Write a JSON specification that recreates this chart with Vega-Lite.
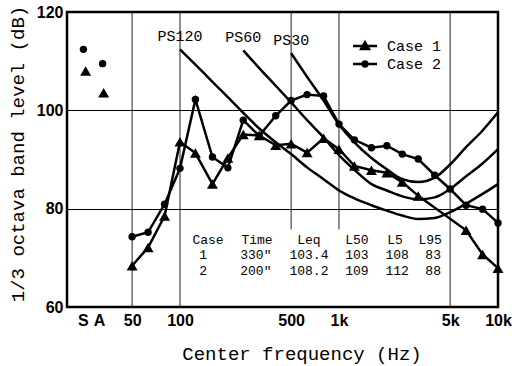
{
  "$schema": "https://vega.github.io/schema/vega-lite/v6.json",
  "width": 431,
  "height": 295,
  "autosize": "none",
  "padding": {"left": 67, "top": 12, "right": 14, "bottom": 59},
  "background": "white",
  "config": {
    "view": {"stroke": "black", "strokeWidth": 2.5},
    "font": "Liberation Sans"
  },
  "datasets": {
    "cases": [
      {"series": "Case 1", "freq": 50, "level": 68.4},
      {"series": "Case 1", "freq": 63, "level": 72.1},
      {"series": "Case 1", "freq": 80, "level": 78.5},
      {"series": "Case 1", "freq": 100, "level": 93.6},
      {"series": "Case 1", "freq": 125, "level": 91.3},
      {"series": "Case 1", "freq": 160, "level": 85.0},
      {"series": "Case 1", "freq": 200, "level": 90.3},
      {"series": "Case 1", "freq": 250, "level": 95.1},
      {"series": "Case 1", "freq": 315, "level": 94.9},
      {"series": "Case 1", "freq": 400, "level": 92.9},
      {"series": "Case 1", "freq": 500, "level": 93.2},
      {"series": "Case 1", "freq": 630, "level": 91.4},
      {"series": "Case 1", "freq": 800, "level": 94.3},
      {"series": "Case 1", "freq": 1000, "level": 92.1},
      {"series": "Case 1", "freq": 1250, "level": 88.7},
      {"series": "Case 1", "freq": 1600, "level": 87.8},
      {"series": "Case 1", "freq": 2000, "level": 87.3},
      {"series": "Case 1", "freq": 2500, "level": 85.4},
      {"series": "Case 1", "freq": 3150, "level": 82.6},
      {"series": "Case 1", "freq": 6300, "level": 75.6},
      {"series": "Case 1", "freq": 8000, "level": 70.7},
      {"series": "Case 1", "freq": 10000, "level": 67.9},
      {"series": "Case 2", "freq": 50, "level": 74.3},
      {"series": "Case 2", "freq": 63, "level": 75.2},
      {"series": "Case 2", "freq": 80, "level": 80.9},
      {"series": "Case 2", "freq": 100, "level": 88.2},
      {"series": "Case 2", "freq": 125, "level": 102.2},
      {"series": "Case 2", "freq": 160, "level": 90.5},
      {"series": "Case 2", "freq": 200, "level": 88.3},
      {"series": "Case 2", "freq": 250, "level": 98.0},
      {"series": "Case 2", "freq": 315, "level": 94.8},
      {"series": "Case 2", "freq": 400, "level": 98.9},
      {"series": "Case 2", "freq": 500, "level": 102.0},
      {"series": "Case 2", "freq": 630, "level": 103.2},
      {"series": "Case 2", "freq": 800, "level": 102.9},
      {"series": "Case 2", "freq": 1000, "level": 97.2},
      {"series": "Case 2", "freq": 1250, "level": 94.0},
      {"series": "Case 2", "freq": 1600, "level": 92.4},
      {"series": "Case 2", "freq": 2000, "level": 92.8},
      {"series": "Case 2", "freq": 2500, "level": 91.1},
      {"series": "Case 2", "freq": 3150, "level": 90.1},
      {"series": "Case 2", "freq": 4000, "level": 86.8},
      {"series": "Case 2", "freq": 5000, "level": 84.0},
      {"series": "Case 2", "freq": 6300, "level": 80.7},
      {"series": "Case 2", "freq": 8000, "level": 79.9},
      {"series": "Case 2", "freq": 10000, "level": 77.1}
    ],
    "overall": [
      {"series": "Case 2", "band": "S", "freq": 24.7, "level": 112.4},
      {"series": "Case 1", "band": "S", "freq": 25.5, "level": 108.0},
      {"series": "Case 2", "band": "A", "freq": 32.6, "level": 109.5},
      {"series": "Case 1", "band": "A", "freq": 33.1, "level": 103.6}
    ],
    "ps": [
      {"curve": "PS120", "freq": 100, "level": 112.4},
      {"curve": "PS120", "freq": 125, "level": 109.3},
      {"curve": "PS120", "freq": 160, "level": 105.8},
      {"curve": "PS120", "freq": 200, "level": 102.7},
      {"curve": "PS120", "freq": 250, "level": 99.5},
      {"curve": "PS120", "freq": 315, "level": 96.3},
      {"curve": "PS120", "freq": 400, "level": 93.5},
      {"curve": "PS120", "freq": 500, "level": 91.1},
      {"curve": "PS120", "freq": 630, "level": 88.4},
      {"curve": "PS120", "freq": 800, "level": 86.0},
      {"curve": "PS120", "freq": 1000, "level": 83.7},
      {"curve": "PS120", "freq": 1250, "level": 82.1},
      {"curve": "PS120", "freq": 1600, "level": 80.7},
      {"curve": "PS120", "freq": 2000, "level": 79.6},
      {"curve": "PS120", "freq": 2500, "level": 78.6},
      {"curve": "PS120", "freq": 3150, "level": 77.9},
      {"curve": "PS120", "freq": 4000, "level": 78.1},
      {"curve": "PS120", "freq": 5000, "level": 79.3},
      {"curve": "PS120", "freq": 6300, "level": 81.0},
      {"curve": "PS120", "freq": 8000, "level": 83.0},
      {"curve": "PS120", "freq": 10000, "level": 85.0},
      {"curve": "PS60", "freq": 250, "level": 112.2},
      {"curve": "PS60", "freq": 315, "level": 108.6},
      {"curve": "PS60", "freq": 400, "level": 105.0},
      {"curve": "PS60", "freq": 500, "level": 101.6},
      {"curve": "PS60", "freq": 630, "level": 98.0},
      {"curve": "PS60", "freq": 800, "level": 94.5},
      {"curve": "PS60", "freq": 1000, "level": 90.9},
      {"curve": "PS60", "freq": 1250, "level": 87.9},
      {"curve": "PS60", "freq": 1600, "level": 85.0},
      {"curve": "PS60", "freq": 2000, "level": 83.7},
      {"curve": "PS60", "freq": 2500, "level": 82.5},
      {"curve": "PS60", "freq": 3150, "level": 81.9},
      {"curve": "PS60", "freq": 4000, "level": 82.3},
      {"curve": "PS60", "freq": 5000, "level": 84.0},
      {"curve": "PS60", "freq": 6300, "level": 86.6},
      {"curve": "PS60", "freq": 8000, "level": 89.2},
      {"curve": "PS60", "freq": 10000, "level": 92.1},
      {"curve": "PS30", "freq": 500, "level": 111.6},
      {"curve": "PS30", "freq": 630, "level": 106.8},
      {"curve": "PS30", "freq": 800, "level": 102.0},
      {"curve": "PS30", "freq": 1000, "level": 97.1},
      {"curve": "PS30", "freq": 1250, "level": 93.5},
      {"curve": "PS30", "freq": 1600, "level": 90.3},
      {"curve": "PS30", "freq": 2000, "level": 88.0},
      {"curve": "PS30", "freq": 2500, "level": 86.0},
      {"curve": "PS30", "freq": 3150, "level": 85.4},
      {"curve": "PS30", "freq": 4000, "level": 86.3},
      {"curve": "PS30", "freq": 5000, "level": 89.0},
      {"curve": "PS30", "freq": 6300, "level": 92.5},
      {"curve": "PS30", "freq": 8000, "level": 95.9},
      {"curve": "PS30", "freq": 10000, "level": 99.6}
    ],
    "grid": [
      {"freq": 50, "lo": 60, "hi": 120},
      {"freq": 100, "lo": 60, "hi": 120},
      {"freq": 500, "lo": 75.8, "hi": 120},
      {"freq": 1000, "lo": 75.8, "hi": 120},
      {"freq": 5000, "lo": 60, "hi": 120}
    ],
    "table": [
      {"cell": "Case", "freq": 150, "level": 73.7},
      {"cell": "1", "freq": 140, "level": 70.5},
      {"cell": "2", "freq": 140, "level": 67.3},
      {"cell": "Time", "freq": 305, "level": 73.7},
      {"cell": "330\"", "freq": 300, "level": 70.5},
      {"cell": "200\"", "freq": 300, "level": 67.3},
      {"cell": "Leq", "freq": 647, "level": 73.7},
      {"cell": "103.4", "freq": 647, "level": 70.5},
      {"cell": "108.2", "freq": 647, "level": 67.3},
      {"cell": "L50", "freq": 1297, "level": 73.7},
      {"cell": "103", "freq": 1297, "level": 70.5},
      {"cell": "109", "freq": 1297, "level": 67.3},
      {"cell": "L5", "freq": 2250, "level": 73.7},
      {"cell": "108", "freq": 2320, "level": 70.5},
      {"cell": "112", "freq": 2320, "level": 67.3},
      {"cell": "L95", "freq": 3740, "level": 73.7},
      {"cell": "83", "freq": 3910, "level": 70.5},
      {"cell": "88", "freq": 3910, "level": 67.3}
    ]
  },
  "encoding": {
    "x": {
      "field": "freq",
      "type": "quantitative",
      "scale": {"type": "log", "domain": [19.47, 10000], "nice": false},
      "axis": {
        "values": [24.5, 31, 50, 100, 500, 1000, 5000, 10000],
        "labelExpr": "datum.value < 28 ? 'S' : datum.value < 40 ? 'A' : datum.value >= 1000 ? (datum.value / 1000) + 'k' : '' + datum.value",
        "grid": false,
        "ticks": false,
        "domain": false,
        "labelFont": "Liberation Sans",
        "labelFontWeight": "bold",
        "labelFontSize": 16,
        "labelColor": "black",
        "labelPadding": 5,
        "labelFlush": false,
        "labelOverlap": false,
        "title": "Center frequency (Hz)",
        "titleFont": "Liberation Mono",
        "titleFontSize": 19,
        "titleFontWeight": "normal",
        "titleColor": "black",
        "titleX": 234.5,
        "titleY": 46,
        "titleBaseline": "middle",
        "titleAlign": "center"
      }
    },
    "y": {
      "field": "level",
      "type": "quantitative",
      "scale": {"domain": [60, 120], "nice": false, "zero": false},
      "axis": {
        "values": [60, 80, 100, 120],
        "grid": true,
        "gridColor": "black",
        "gridWidth": 1,
        "gridOpacity": 1,
        "ticks": false,
        "domain": false,
        "labelFont": "Liberation Sans",
        "labelFontWeight": "bold",
        "labelFontSize": 16,
        "labelColor": "black",
        "labelPadding": 4,
        "title": "1/3 octava band level (dB)",
        "titleFont": "Liberation Mono",
        "titleFontSize": 19,
        "titleFontWeight": "normal",
        "titleColor": "black",
        "titleAngle": -90,
        "titleX": -50,
        "titleY": 141.5,
        "titleBaseline": "middle",
        "titleAlign": "center"
      }
    }
  },
  "layer": [
    {
      "data": {"name": "grid"},
      "mark": {"type": "rule", "color": "#222222", "strokeWidth": 1},
      "encoding": {
        "y": {"field": "lo", "type": "quantitative"},
        "y2": {"field": "hi"}
      }
    },
    {
      "data": {"name": "ps"},
      "mark": {"type": "line", "color": "black", "strokeWidth": 2.5, "interpolate": "monotone"},
      "encoding": {"detail": {"field": "curve", "type": "nominal"}}
    },
    {
      "data": {"name": "ps"},
      "transform": [
        {"joinaggregate": [{"op": "min", "field": "freq", "as": "f0"}], "groupby": ["curve"]},
        {"filter": "datum.freq === datum.f0"}
      ],
      "mark": {"type": "text", "font": "Liberation Mono", "fontSize": 15, "color": "black", "dy": -13, "baseline": "middle", "align": "center"},
      "encoding": {"text": {"field": "curve", "type": "nominal"}}
    },
    {
      "data": {"name": "cases"},
      "mark": {"type": "line", "color": "black", "strokeWidth": 2.5},
      "encoding": {"detail": {"field": "series", "type": "nominal"}}
    },
    {
      "data": {"name": "cases"},
      "mark": {"type": "point", "filled": true, "color": "black", "opacity": 1, "strokeWidth": 0},
      "encoding": {
        "shape": {"condition": {"test": "datum.series === 'Case 1'", "value": "triangle-up"}, "value": "circle"},
        "size": {"condition": {"test": "datum.series === 'Case 1'", "value": 120}, "value": 55}
      }
    },
    {
      "data": {"name": "overall"},
      "mark": {"type": "point", "filled": true, "color": "black", "opacity": 1, "strokeWidth": 0},
      "encoding": {
        "shape": {"condition": {"test": "datum.series === 'Case 1'", "value": "triangle-up"}, "value": "circle"},
        "size": {"condition": {"test": "datum.series === 'Case 1'", "value": 120}, "value": 55}
      }
    },
    {
      "data": {"name": "cases"},
      "mark": {"type": "point", "filled": true, "color": "black", "opacity": 0, "size": 10},
      "encoding": {
        "shape": {
          "field": "series",
          "type": "nominal",
          "scale": {
            "domain": ["Case 1", "Case 2"],
            "range": [
              "M-1.2,-0.12H1.2V0.12H-1.2Z M0,-0.62L0.6,0.42H-0.6Z",
              "M-1.2,-0.12H1.2V0.12H-1.2Z M-0.38,0A0.38,0.38 0 1,1 0.38,0A0.38,0.38 0 1,1 -0.38,0Z"
            ]
          },
          "legend": {
            "orient": "none",
            "legendX": 288,
            "legendY": 24,
            "title": null,
            "padding": 0,
            "rowPadding": 0,
            "symbolSize": 400,
            "symbolOpacity": 1,
            "symbolFillColor": "black",
            "symbolStrokeColor": "black",
            "symbolStrokeWidth": 0,
            "labelFont": "Liberation Mono",
            "labelFontSize": 15,
            "labelColor": "black",
            "labelOffset": 12
          }
        }
      }
    },
    {
      "data": {"name": "table"},
      "mark": {"type": "text", "font": "Liberation Mono", "fontSize": 13, "baseline": "middle", "align": "center", "color": "black"},
      "encoding": {"text": {"field": "cell", "type": "nominal"}}
    }
  ]
}
